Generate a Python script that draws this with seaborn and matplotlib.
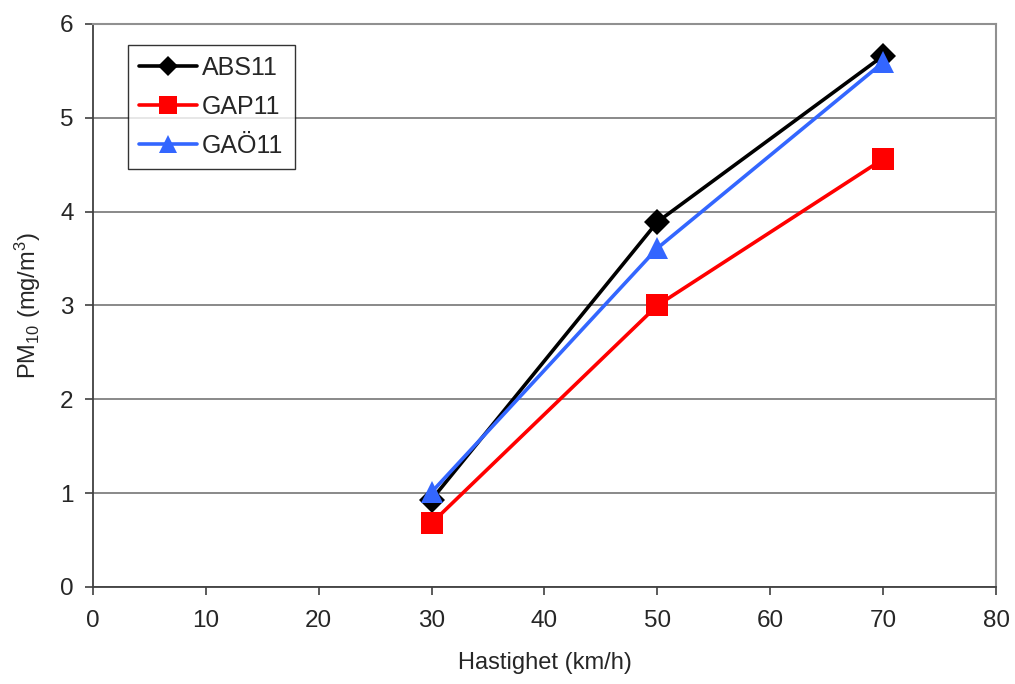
import matplotlib
matplotlib.use("Agg")
import matplotlib.pyplot as plt
import seaborn as sns
import pandas as pd

# data
speed = [30, 50, 70]
abs11 = [0.93, 3.89, 5.66]
gap11 = [0.68, 3.00, 4.56]
gao11 = [1.01, 3.61, 5.59]
series_names = ["ABS11", "GAP11", "GAÖ11"]

df = pd.DataFrame({
    "speed": speed * 3,
    "pm10": abs11 + gap11 + gao11,
    "series": [n for n in series_names for _ in speed],
})

sns.set_style("white")
plt.rcParams["font.family"] = ["Liberation Sans", "DejaVu Sans"]
plt.rcParams["mathtext.fontset"] = "custom"
plt.rcParams["mathtext.rm"] = "Liberation Sans"
plt.rcParams["mathtext.it"] = "Liberation Sans:italic"
plt.rcParams["mathtext.default"] = "regular"

fig = plt.figure(figsize=(10.15, 6.84), dpi=100)
ax = fig.add_axes([0.0916, 0.142, 0.8897, 0.823])

palette = {"ABS11": "#000000", "GAP11": "#ff0000", "GAÖ11": "#3366ff"}
markers = {"ABS11": "D", "GAP11": "s", "GAÖ11": "^"}
sizes = {"ABS11": 13, "GAP11": 16, "GAÖ11": 16}

for name in series_names:
    sub = df[df["series"] == name]
    sns.lineplot(data=sub, x="speed", y="pm10", ax=ax, color=palette[name],
                 marker=markers[name], markersize=sizes[name], linewidth=2.6,
                 markeredgewidth=0, label=name)

ax.set_xlim(0, 80)
ax.set_ylim(0, 6)
ax.set_xticks(range(0, 81, 10))
ax.set_yticks(range(0, 7))
ax.yaxis.grid(True, color="#808080", linewidth=1.3)
ax.set_axisbelow(True)

for side in ["top", "right"]:
    ax.spines[side].set_color("#909090")
    ax.spines[side].set_linewidth(1.5)
for side in ["left", "bottom"]:
    ax.spines[side].set_color("#404040")
    ax.spines[side].set_linewidth(1.3)

ax.tick_params(axis="both", labelsize=17.5, direction="out", length=6,
               width=1.2, color="#404040", bottom=True, left=True)
ax.tick_params(axis="x", pad=11)
ax.tick_params(axis="y", pad=8)

ax.set_xlabel("Hastighet (km/h)", fontsize=17, labelpad=14)
ax.set_ylabel("PM$_{10}$ (mg/m$^3$)", fontsize=17, labelpad=12)

leg = ax.legend(loc="upper left", bbox_to_anchor=(0.039, 0.963), fontsize=18,
                frameon=True, fancybox=False, edgecolor="#000000",
                handlelength=2.3, borderpad=0.45, labelspacing=0.6,
                handletextpad=0.2, borderaxespad=0, markerscale=0.8)
leg.get_frame().set_linewidth(1.0)

fig.savefig("out.png", dpi=100)
